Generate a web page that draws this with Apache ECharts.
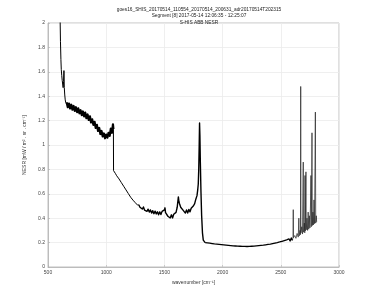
<!DOCTYPE html>
<html>
<head>
<meta charset="utf-8">
<script src="https://cdn.jsdelivr.net/npm/echarts@6/dist/echarts.min.js"></script>
<style>html,body{margin:0;padding:0;background:#fff}#c{width:375px;height:301px}</style>
</head>
<body>
<div id="c"></div>
<script>
var titleLines = [
  "goes16_SHIS_20170514_110554_20170514_200631_adr20170514T202315",
  "Segment [8] 2017-05-14 12:06:35 - 12:25:07",
  "S-HIS ABB NESR"
];
var xAxisName = "wavenumber [cm\u207B\u00B9]";
var yAxisName = "NESR [mW / m\u00B2 . sr . cm\u207B\u00B9]";
var xTicks = [500, 1000, 1500, 2000, 2500, 3000];
var yTicks = [0, 0.2, 0.4, 0.6, 0.8, 1, 1.2, 1.4, 1.6, 1.8, 2];

// steep onset of the longwave band (wavenumber, NESR)
var lwEdge = [
[598,2.6],[603,2.1],[607,1.85],[611,1.70],[614,1.62],[618,1.57],[622,1.53],[626,1.50],[630,1.47],[634,1.52],[637,1.61],[640,1.47],[644,1.41],[648,1.37],[652,1.35],[656,1.34],[660,1.35]
];
// noisy longwave band
var lwBand = [
[660,1.35],[670,1.31],[680,1.34],[690,1.30],[700,1.33],[710,1.29],[720,1.32],[730,1.28],[740,1.31],[750,1.27],[760,1.30],[770,1.26],[780,1.285],[790,1.245],[800,1.275],[810,1.235],[820,1.265],[830,1.22],[840,1.25],[850,1.205],[860,1.235],[870,1.185],[880,1.21],[890,1.165],[900,1.19],[910,1.14],[920,1.165],[930,1.115],[940,1.14],[950,1.09],[960,1.115],[970,1.07],[980,1.095],[990,1.055],[1000,1.085],[1010,1.06],[1020,1.10],[1030,1.075],[1040,1.135],[1050,1.10],[1058,1.17],[1062,1.13]
];
// drop and smooth start of the midwave band
var mwClean = [
[1062,1.13],[1063,0.79],[1070,0.775],[1080,0.765],[1090,0.748],[1100,0.738],[1110,0.722],[1120,0.712],[1130,0.692],[1140,0.683],[1150,0.662],[1160,0.652],[1170,0.632],[1180,0.622],[1190,0.602],[1200,0.592],[1210,0.572],[1220,0.568],[1230,0.548],[1240,0.545],[1250,0.527],[1260,0.525],[1270,0.507],[1280,0.51]
];
// noisier part of the midwave band with the 1800 peak
var mwBand = [
[1280,0.51],[1290,0.49],[1300,0.50],[1310,0.475],[1320,0.492],[1330,0.466],[1340,0.48],[1350,0.456],[1360,0.474],[1370,0.45],[1380,0.468],[1390,0.442],[1400,0.462],[1410,0.437],[1420,0.458],[1430,0.435],[1440,0.452],[1450,0.428],[1460,0.452],[1470,0.43],[1480,0.456],[1490,0.44],[1500,0.468],[1505,0.485],[1510,0.445],[1520,0.438],[1530,0.416],[1540,0.432],[1550,0.402],[1560,0.428],[1570,0.402],[1580,0.432],[1590,0.42],[1600,0.448],[1610,0.49],[1620,0.575],[1625,0.535],[1630,0.518],[1640,0.49],[1650,0.502],[1660,0.466],[1670,0.482],[1680,0.442],[1690,0.468],[1700,0.442],[1710,0.472],[1720,0.452],[1730,0.482],[1740,0.47],[1750,0.502],[1760,0.52],[1770,0.556],[1780,0.585],[1786,0.63],[1791,0.68],[1795,0.80],[1799,1.0],[1802,1.18],[1805,1.08],[1809,0.85],[1814,0.62],[1820,0.42],[1827,0.28],[1834,0.22],[1840,0.205],[1850,0.2]
];
// shortwave band floor
var swBand = [
[1850,0.2],[1860,0.192],[1870,0.198],[1880,0.187],[1890,0.195],[1900,0.184],[1910,0.192],[1920,0.181],[1930,0.189],[1940,0.179],[1950,0.187],[1960,0.177],[1970,0.185],[1980,0.175],[1990,0.183],[2000,0.173],[2010,0.181],[2020,0.171],[2030,0.179],[2040,0.169],[2050,0.177],[2060,0.167],[2070,0.175],[2080,0.166],[2090,0.173],[2100,0.164],[2110,0.172],[2120,0.163],[2130,0.171],[2140,0.162],[2150,0.17],[2160,0.161],[2170,0.169],[2180,0.161],[2190,0.169],[2200,0.16],[2210,0.168],[2220,0.161],[2230,0.169],[2240,0.161],[2250,0.17],[2260,0.162],[2270,0.171],[2280,0.163],[2290,0.173],[2300,0.165],[2310,0.175],[2320,0.167],[2330,0.177],[2340,0.169],[2350,0.179],[2360,0.171],[2370,0.182],[2380,0.173],[2390,0.185],[2400,0.176],[2410,0.188],[2420,0.179],[2430,0.192],[2440,0.182],[2450,0.196],[2460,0.186],[2470,0.2],[2480,0.19],[2490,0.205],[2500,0.194],[2510,0.211],[2520,0.199],[2530,0.217],[2540,0.203],[2550,0.223],[2560,0.208],[2570,0.23],[2580,0.213],[2590,0.238],[2600,0.218]
];
// spiky end of the shortwave band
var swSpikes = [
[2600,0.218],[2605,0.245],[2607,0.47],[2609,0.24],[2615,0.228],[2620,0.258],[2630,0.235],[2640,0.275],[2650,0.245],[2655,0.4],[2658,0.255],[2665,0.3],[2669,0.265],[2671,1.48],[2673,0.28],[2680,0.33],[2686,0.27],[2693,0.86],[2696,0.285],[2702,0.36],[2706,0.28],[2708,0.75],[2710,0.295],[2716,0.78],[2719,0.305],[2725,0.4],[2730,0.3],[2735,0.45],[2740,0.31],[2745,0.42],[2750,0.32],[2755,0.5],[2759,0.75],[2762,0.33],[2768,1.10],[2771,0.34],[2776,0.45],[2780,0.345],[2785,0.55],[2790,0.355],[2797,1.27],[2800,0.36],[2805,0.42],[2808,0.37]
];

var chart = echarts.init(document.getElementById('c'), null, {renderer: 'canvas'});
var font = 'Liberation Sans, Arial, sans-serif';
function seg(data, width, color) {
  return {type: 'line', data: data, showSymbol: false, symbol: 'none', clip: true,
    lineStyle: {color: color || '#000', width: width, join: 'round'}};
}
chart.setOption({
  animation: false,
  backgroundColor: '#fff',
  title: {
    text: titleLines.join('\n'),
    left: 194, top: 1, textAlign: 'center',
    textStyle: {fontSize: 4.8, lineHeight: 6.6, fontWeight: 'normal', color: '#222', fontFamily: font}
  },
  grid: {left: 48, right: 36, top: 23, bottom: 34, show: true, borderColor: '#b0b0b0', borderWidth: 0.8, containLabel: false},
  xAxis: {
    type: 'value', min: xTicks[0], max: xTicks[xTicks.length - 1], interval: 500,
    name: xAxisName, nameLocation: 'middle', nameGap: 11,
    nameTextStyle: {fontSize: 5, color: '#333', fontFamily: font},
    axisLine: {show: true, lineStyle: {color: '#b0b0b0', width: 0.8}},
    axisTick: {show: true, inside: true, length: 2, lineStyle: {color: '#b0b0b0', width: 0.6}},
    axisLabel: {fontSize: 5, color: '#444', margin: 3, fontFamily: font,
      formatter: function (v) { return String(v); }},
    splitLine: {show: true, lineStyle: {color: '#ebebeb', width: 0.8}}
  },
  yAxis: {
    type: 'value', min: yTicks[0], max: yTicks[yTicks.length - 1], interval: 0.2,
    name: yAxisName, nameLocation: 'middle', nameGap: 12, nameRotate: 90,
    nameTextStyle: {fontSize: 5, color: '#333', fontFamily: font},
    axisLine: {show: true, lineStyle: {color: '#b0b0b0', width: 0.8}},
    axisTick: {show: true, inside: true, length: 2, lineStyle: {color: '#b0b0b0', width: 0.6}},
    axisLabel: {fontSize: 5, color: '#444', margin: 3, fontFamily: font,
      formatter: function (v) { return String(+v.toFixed(1)); }},
    splitLine: {show: true, lineStyle: {color: '#ebebeb', width: 0.8}}
  },
  series: [
    seg(lwEdge, 1),
    seg(lwBand, 2.2),
    seg(mwClean, 1),
    seg(mwBand, 1.4),
    seg(swBand, 1.3),
    seg(swSpikes, 0.7, '#222')
  ]
});
</script>
</body>
</html>
